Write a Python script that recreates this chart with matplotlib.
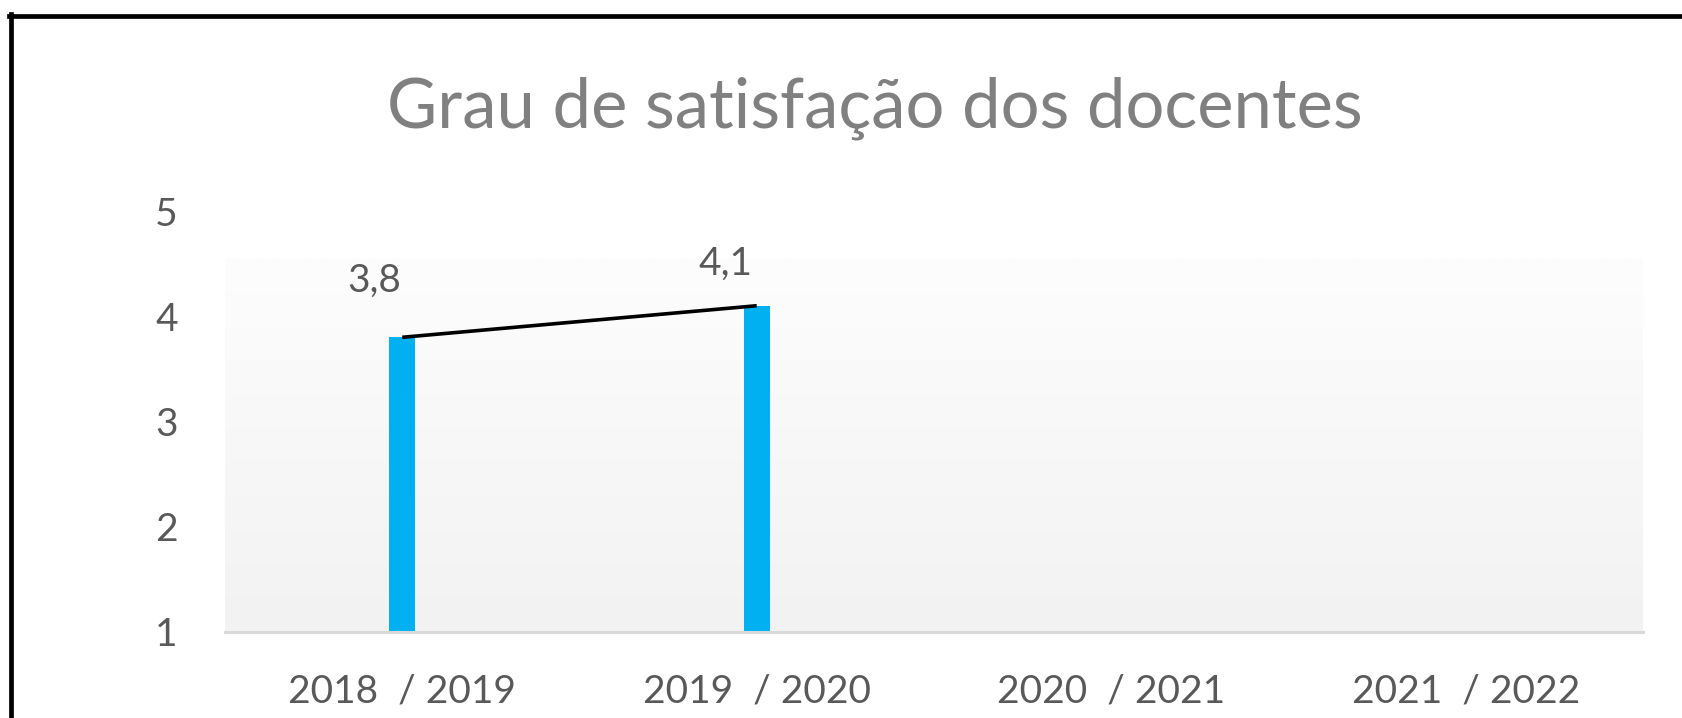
import matplotlib
matplotlib.use("Agg")
import matplotlib.pyplot as plt
import numpy as np
from matplotlib.lines import Line2D

# data
categories = ["2018  / 2019", "2019  / 2020", "2020  / 2021", "2021  / 2022"]
values = [3.8, 4.1]          # only the first two years have results
y_ticks = [1, 2, 3, 4, 5]
title = "Grau de satisfação dos docentes"

# label offsets (points) relative to each point, label is right-aligned
label_offsets = [(-1, 33), (-3, 22)]

plt.rcParams["font.family"] = ["Lato", "DejaVu Sans"]

W, H = 1682, 718
fig = plt.figure(figsize=(W / 100, H / 100), dpi=100)
fig.patch.set_facecolor("white")

# plot area
ax = fig.add_axes([225 / W, 1 - 632 / H, (1643 - 225) / W, (632 - 211) / H])
ax.set_facecolor("white")
ax.set_xlim(-0.5, len(categories) - 0.5)
ax.set_ylim(1, 5)

# soft vertical gradient behind the series
grad = np.linspace(0xf2, 0xfd, 256)[:, None] / 255.0
ax.imshow(np.dstack([grad, grad, grad]), extent=[0, 1, 0, 0.888],
          transform=ax.transAxes, origin="lower", aspect="auto", zorder=0)

x = np.arange(len(values))
ax.bar(x, [v - 1 for v in values], bottom=1, width=0.073, color="#00B0F0", zorder=2)
ax.plot(x, values, color="black", lw=2.6, zorder=3, solid_capstyle="butt")

for xi, v, (dx, dy) in zip(x, values, label_offsets):
    ax.annotate(f"{v:.1f}".replace(".", ","), xy=(xi, v), xytext=(dx, dy),
                textcoords="offset points", ha="right", va="baseline",
                fontsize=28, color="#595959")

ax.set_xticks(np.arange(len(categories)))
ax.set_xticklabels(categories)
ax.set_yticks(y_ticks)
ax.set_yticklabels([str(t) for t in y_ticks])
ax.tick_params(axis="both", length=0, labelsize=28, labelcolor="#595959")
ax.tick_params(axis="y", pad=34)
ax.tick_params(axis="x", pad=30)

for side in ["left", "right", "top"]:
    ax.spines[side].set_visible(False)
ax.spines["bottom"].set_color("#d9d9d9")
ax.spines["bottom"].set_linewidth(2.2)
ax.spines["bottom"].set_zorder(4)

fig.text(875 / W, 1 - 128 / H, title, ha="center", va="baseline",
         fontsize=49.5, color="#808080")

# black frame of the chart (only top and left edges are inside the crop)
fig.add_artist(Line2D([11 / W, 11 / W], [1 - 13.5 / H, 0], color="black", lw=3.4,
                      transform=fig.transFigure))
fig.add_artist(Line2D([9 / W, 1], [1 - 15.5 / H, 1 - 15.5 / H], color="black", lw=3.4,
                      transform=fig.transFigure))

fig.savefig("out.png", dpi=100)
